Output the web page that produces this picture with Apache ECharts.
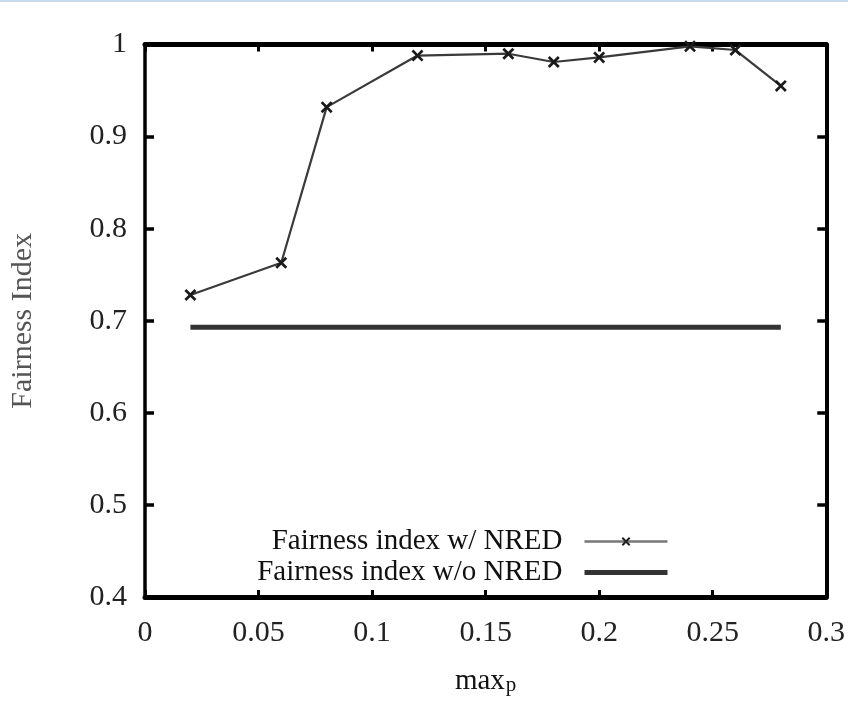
<!DOCTYPE html>
<html>
<head>
<meta charset="utf-8">
<script src="https://cdn.jsdelivr.net/npm/echarts@6/dist/echarts.min.js"></script>
<style>
html,body{margin:0;padding:0;background:#fff;}
#chart{width:848px;height:701px;}
</style>
</head>
<body>
<div id="chart"></div>
<script>
// Data
const xValues = [0.02, 0.06, 0.08, 0.12, 0.16, 0.18, 0.20, 0.24, 0.26, 0.28];
const withNRED = [0.728, 0.763, 0.932, 0.988, 0.990, 0.981, 0.986, 0.998, 0.994, 0.955];
const withoutNREDx = [0.02, 0.28];
const withoutNRED = [0.693, 0.693];
const seriesNames = ['Fairness index w/ NRED', 'Fairness index w/o NRED'];
const xAxisTitle = 'max';
const xAxisSub = 'p';
const yAxisTitle = 'Fairness Index';

const FONT = 'Liberation Serif';
const chart = echarts.init(document.getElementById('chart'), null, {renderer: 'canvas'});

const s1 = xValues.map((x, i) => [x, withNRED[i]]);
const s2 = withoutNREDx.map((x, i) => [x, withoutNRED[i]]);

const xCommon = {
  type: 'value', min: 0, max: 0.3, interval: 0.05,
  splitLine: {show: false}
};
const yCommon = {
  type: 'value', min: 0.4, max: 1, interval: 0.1,
  splitLine: {show: false}
};

const X_SHAPE = 'path://M0,1.6 L1.6,0 L5,3.4 L8.4,0 L10,1.6 L6.6,5 L10,8.4 L8.4,10 L5,6.6 L1.6,10 L0,8.4 L3.4,5 Z';

chart.setOption({
  animation: false,
  backgroundColor: '#ffffff',
  graphic: [{
    type: 'rect', left: 0, top: 0, shape: {width: 848, height: 2},
    style: {fill: '#c6dbef'}, silent: true
  }],
  grid: {left: 144.5, right: 17, top: 44.5, bottom: 102.5, containLabel: false},
  legend: {
    orient: 'vertical', align: 'right', right: 178, top: 527, padding: 0,
    itemGap: 2, itemWidth: 83, itemHeight: 11,
    textStyle: {fontFamily: FONT, fontSize: 29, color: '#111', padding: [0, 17, 0, 0]},
    data: [
      {name: seriesNames[0], lineStyle: {color: '#777', width: 2.5}, itemStyle: {color: '#222'}},
      {name: seriesNames[1], lineStyle: {color: '#333', width: 5}, itemStyle: {opacity: 0}}
    ],
    selectedMode: false
  },
  xAxis: [
    Object.assign({}, xCommon, {
      position: 'bottom',
      name: '{a|' + xAxisTitle + '}{b|' + xAxisSub + '}',
      nameLocation: 'middle', nameGap: 64,
      nameTextStyle: {
        rich: {
          a: {fontFamily: FONT, fontSize: 29, lineHeight: 29, color: '#111', verticalAlign: 'top'},
          b: {fontFamily: FONT, fontSize: 21, lineHeight: 21, color: '#111', verticalAlign: 'bottom', padding: [22, 0, 0, 1]}
        }
      },
      axisLine: {show: true, lineStyle: {color: '#000', width: 5}},
      axisTick: {show: true, inside: true, length: 7, lineStyle: {color: '#000', width: 3}},
      axisLabel: {show: true, margin: 21, fontFamily: FONT, fontSize: 30, color: '#222'}
    }),
    Object.assign({}, xCommon, {
      position: 'top',
      axisLine: {show: true, onZero: false, lineStyle: {color: '#000', width: 5}},
      axisTick: {show: true, inside: true, length: 7, lineStyle: {color: '#000', width: 3}},
      axisLabel: {show: false}
    })
  ],
  yAxis: [
    Object.assign({}, yCommon, {
      position: 'left',
      name: yAxisTitle, nameLocation: 'middle', nameGap: 107, nameRotate: 90,
      nameTextStyle: {fontFamily: FONT, fontSize: 30, color: '#555'},
      axisLine: {show: true, onZero: false, lineStyle: {color: '#000', width: 3.5}},
      axisTick: {show: true, inside: true, length: 9, lineStyle: {color: '#000', width: 3.5}},
      axisLabel: {show: true, margin: 18, fontFamily: FONT, fontSize: 30, color: '#222'}
    }),
    Object.assign({}, yCommon, {
      position: 'right',
      axisLine: {show: true, onZero: false, lineStyle: {color: '#000', width: 4}},
      axisTick: {show: true, inside: true, length: 9, lineStyle: {color: '#000', width: 3.5}},
      axisLabel: {show: false}
    })
  ],
  series: [
    {
      name: seriesNames[0], type: 'line', data: s1,
      xAxisIndex: 0, yAxisIndex: 0,
      symbol: X_SHAPE, symbolSize: 12, showSymbol: true,
      lineStyle: {color: '#3a3a3a', width: 2.2},
      itemStyle: {color: '#1a1a1a'},
      z: 3
    },
    {
      name: seriesNames[1], type: 'line', data: s2,
      xAxisIndex: 0, yAxisIndex: 0,
      symbol: 'none', showSymbol: false,
      lineStyle: {color: '#333', width: 5},
      itemStyle: {color: '#333'},
      z: 2
    }
  ]
});
</script>
</body>
</html>
